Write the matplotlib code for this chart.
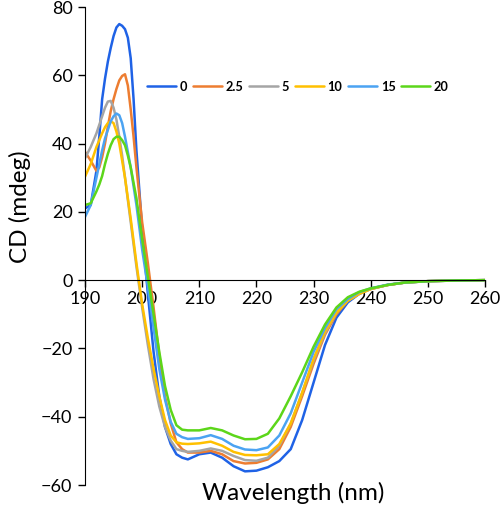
import matplotlib
matplotlib.use("Agg")
import matplotlib.pyplot as plt

plt.rcParams['font.family'] = ['Lato', 'DejaVu Sans']

wavelength = [190, 191, 192, 192.5, 193, 193.5, 194, 194.5, 195, 195.5, 196, 196.5, 197, 197.5,
              198, 198.5, 199, 200, 201, 202, 203, 204, 205, 206, 207, 208, 210, 212, 214,
              216, 218, 220, 222, 224, 226, 228, 230, 232, 234, 236, 238, 240, 243, 246,
              250, 255, 260]

cd_0 = [21, 22, 32, 42, 53, 59, 64, 68, 71.5, 74, 75, 74.5, 73.5, 71,
        65, 53, 38, 15, -4, -21, -34, -43, -48, -51, -52, -52.5, -51, -50.5, -52,
        -54.5, -56, -55.8, -54.8, -53, -49.5, -41, -30, -19, -11, -6.5, -4, -2.5, -1.4, -0.7,
        -0.3, -0.1, 0]
cd_2_5 = [37.6, 35, 32, 33, 36, 40, 45, 49.5, 53, 56, 58.5, 59.8, 60.3, 57,
          50, 42, 33, 17, 5, -8, -22, -34, -42, -47.5, -49.5, -50.5, -50.5, -50, -51,
          -53, -53.7, -53.5, -52.5, -49.5, -43, -34, -24.5, -16, -10, -6, -4, -2.6, -1.4, -0.7,
          -0.3, -0.1, 0]
cd_5 = [35.7, 39, 43, 45.5, 48, 50.5, 52.3, 52.5, 50.5, 47, 42, 36.5, 30, 23.5,
        17, 10.5, 4, -8, -19, -29, -37, -43, -47, -49.5, -50, -50.3, -50, -49.3, -50,
        -51.5, -52.7, -52.9, -52, -48.5, -42, -33, -23.5, -15.5, -9.5, -6, -4, -2.6, -1.4, -0.7,
        -0.3, -0.1, 0]
cd_10 = [30.3, 34, 39, 41, 43, 44.8, 46, 46.5, 46, 43.5, 40, 35, 30, 24,
         18, 11.5, 5, -7, -17, -26, -34, -41, -45.5, -47.5, -47.9, -48, -47.8, -47.3, -48.5,
         -50.3, -51.2, -51.3, -51, -48, -42, -33, -23, -15, -9.5, -6, -4, -2.6, -1.4, -0.7,
         -0.3, -0.1, 0]
cd_15 = [18.5, 22, 30, 34, 38, 41.5, 44, 46.5, 48, 48.8, 48.3, 46, 42, 37.5,
         33, 27.5, 22, 9, -2, -14, -26, -35, -41.5, -45, -46, -46.5, -46.3, -45.4, -46.5,
         -48.5, -49.6, -49.8, -49, -45.5, -39, -30, -21, -14, -8.5, -5.5, -3.5, -2.4, -1.3, -0.7,
         -0.3, -0.1, 0]
cd_20 = [22, 22.5, 26, 28, 30.5, 34, 37, 39.5, 41.3, 42, 42, 41, 39.5, 36.5,
         33, 28.5, 24, 12, 1, -10, -21, -31, -38, -42.5, -43.8, -44, -44, -43.3, -44,
         -45.5, -46.6, -46.5, -45, -40.5, -34, -27, -19.5, -13, -8, -5, -3.4, -2.4, -1.4, -0.7,
         -0.3, -0.1, 0]

labels = ['0', '2.5', '5', '10', '15', '20']
colors = ['#1F62E6', '#ED7D31', '#A5A5A5', '#FFC000', '#4BA3F2', '#5CD61A']
series = [cd_0, cd_2_5, cd_5, cd_10, cd_15, cd_20]

fig = plt.figure(figsize=(5.02, 5.09), dpi=100)
ax = fig.add_axes([85/502, 1-485/509, 400/502, 478/509])

for vals, lab, col in zip(series, labels, colors):
    ax.plot(wavelength, vals, color=col, lw=1.8, label=lab,
            solid_joinstyle='round', solid_capstyle='round')

ax.set_xlim(190, 260)
ax.set_ylim(-60, 80)
ax.set_xticks(range(190, 261, 10))
ax.set_yticks(range(-60, 81, 20))
ax.spines['top'].set_visible(False)
ax.spines['right'].set_visible(False)
ax.spines['bottom'].set_position(('data', 0))
ax.spines['bottom'].set_color('black')
ax.spines['left'].set_color('black')
ax.tick_params(axis='both', labelsize=13, direction='out', length=5, width=1, colors='black')
ax.tick_params(axis='x', pad=3)
ax.tick_params(axis='y', pad=4)

ax.text(0.52, -0.017, 'Wavelength (nm)', transform=ax.transAxes, ha='center', va='center', fontsize=17.5)
fig.text(20/502, 1-207/509, 'CD (mdeg)', rotation=90, ha='center', va='center', fontsize=17.5)

leg = ax.legend(loc='center left', bbox_to_anchor=(0.155, 0.833), ncol=6, frameon=False,
                handlelength=2.25, handletextpad=0.3, columnspacing=0.45,
                prop={'weight': 'bold', 'size': 9.2}, borderaxespad=0, borderpad=0)

fig.savefig('out.png', dpi=100)
